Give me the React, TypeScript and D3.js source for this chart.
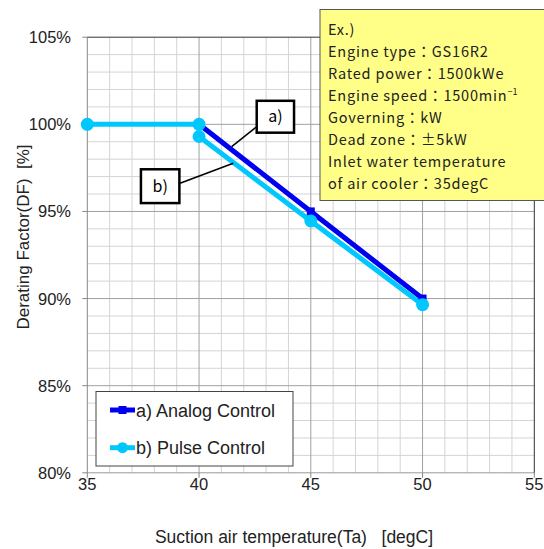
import React from "react";
import * as d3 from "d3";

const xTicks = [35, 40, 45, 50, 55];
const yTicks = [80, 85, 90, 95, 100, 105];
const analogX = [40, 45, 50];
const analogY = [100, 95, 90];
const pulseSegA_X = [35, 40];
const pulseSegA_Y = [100, 100];
const pulseX = [40, 45, 50];
const pulseY = [99.3, 94.45, 89.65];
const infoLines = [
  "Ex.)",
  "Engine type：GS16R2",
  "Rated power：1500kWe",
  "Engine speed：1500min",
  "Governing：kW",
  "Dead zone：±5kW",
  "Inlet water temperature",
  "of air cooler：35degC",
];
const legendLabels = ["a) Analog Control", "b) Pulse Control"];
// annotation callouts in data units: box [x0,x1,y0,y1], leader [x0,y0,x1,y1]
const calloutA = { label: "a)", box: [42.58, 44.25, 101.35, 99.52], leader: [42.58, 99.86, 41.46, 98.72] };
const calloutB = { label: "b)", box: [37.4, 39.12, 97.42, 95.48], leader: [39.15, 96.62, 41.53, 97.77] };

const ANALOG = "#0000f0";
const PULSE = "#00c8ff";
const FONT = "'Liberation Sans', Arial, sans-serif";
const JFONT = "'Noto Sans CJK JP', sans-serif";

export default function App() {
  const L = 87.3, R = 534.3, T = 37.2, B = 472.8;
  const x = d3.scaleLinear().domain([35, 55]).range([L, R]);
  const y = d3.scaleLinear().domain([80, 105]).range([B, T]);
  const minorX = d3.range(35, 56, 1);
  const minorY = d3.range(80, 106, 1);
  const line = d3.line<[number, number]>().x((d) => x(d[0])).y((d) => y(d[1]));
  const analog = analogX.map((v, i) => [v, analogY[i]] as [number, number]);
  const pulseA = pulseSegA_X.map((v, i) => [v, pulseSegA_Y[i]] as [number, number]);
  const pulseB = pulseX.map((v, i) => [v, pulseY[i]] as [number, number]);

  const callout = (c: typeof calloutA) => {
    const [bx0, bx1, by0, by1] = c.box;
    const [lx0, ly0, lx1, ly1] = c.leader;
    return (
      <g key={c.label}>
        <line x1={x(lx0)} y1={y(ly0)} x2={x(lx1)} y2={y(ly1)} stroke="#000" strokeWidth={1.5} />
        <rect x={x(bx0)} y={y(by0)} width={x(bx1) - x(bx0)} height={y(by1) - y(by0)} fill="#fff" stroke="#000" strokeWidth={2.5} />
        <text x={(x(bx0) + x(bx1)) / 2} y={(y(by0) + y(by1)) / 2 + 5.5} textAnchor="middle" fontFamily={JFONT} fontSize={16} fill="#000">{c.label}</text>
      </g>
    );
  };

  return (
    <svg width={544} height={549} style={{ position: "absolute", left: 0, top: 0 }}>
      <rect width={544} height={549} fill="#fff" />
      {minorX.filter((v) => v % 5 !== 0).map((v) => (
        <line key={"mx" + v} x1={x(v)} x2={x(v)} y1={T} y2={B} stroke="#d4d4d4" strokeWidth={1} />
      ))}
      {minorY.filter((v) => v % 5 !== 0).map((v) => (
        <line key={"my" + v} x1={L} x2={R} y1={y(v)} y2={y(v)} stroke="#d4d4d4" strokeWidth={1} />
      ))}
      {xTicks.slice(1, -1).map((v) => (
        <line key={"Mx" + v} x1={x(v)} x2={x(v)} y1={T} y2={B} stroke="#a0a0a0" strokeWidth={1} />
      ))}
      {yTicks.slice(1, -1).map((v) => (
        <line key={"My" + v} x1={L} x2={R} y1={y(v)} y2={y(v)} stroke="#a0a0a0" strokeWidth={1} />
      ))}
      <line x1={L} x2={L} y1={T} y2={B} stroke="#888" strokeWidth={1} />
      <line x1={L} x2={R} y1={B} y2={B} stroke="#999" strokeWidth={1} />
      <line x1={L} x2={R} y1={T} y2={T} stroke="#333" strokeWidth={1} />
      <line x1={R} x2={R} y1={T} y2={B} stroke="#333" strokeWidth={1} />
      {yTicks.map((v) => (
        <g key={"yt" + v}>
          <line x1={L - 5} x2={L} y1={y(v)} y2={y(v)} stroke="#888" />
          <text x={71} y={y(v) + 6} textAnchor="end" fontFamily={FONT} fontSize={16.5} fill="#222">{v}%</text>
        </g>
      ))}
      {xTicks.map((v) => (
        <g key={"xt" + v}>
          <line x1={x(v)} x2={x(v)} y1={B} y2={B + 5} stroke="#888" />
          <text x={x(v)} y={490} textAnchor="middle" fontFamily={FONT} fontSize={16.5} fill="#222">{v}</text>
        </g>
      ))}
      <text x={294} y={543} textAnchor="middle" fontFamily={FONT} fontSize={17.5} fill="#222" style={{ whiteSpace: "pre" }}>
        Suction air temperature(Ta)   [degC]
      </text>
      <text transform="translate(29,237) rotate(-90)" textAnchor="middle" fontFamily={FONT} fontSize={17} fill="#222" style={{ whiteSpace: "pre" }}>
        Derating Factor(DF)  [%]
      </text>
      <path d={line(pulseA) || ""} fill="none" stroke={PULSE} strokeWidth={5} />
      <path d={line(analog) || ""} fill="none" stroke={ANALOG} strokeWidth={5} />
      <path d={line(pulseB) || ""} fill="none" stroke={PULSE} strokeWidth={5} />
      {analog.map((d, i) => (
        <rect key={"as" + i} x={x(d[0]) - 4} y={y(d[1]) - 4} width={8} height={8} fill={ANALOG} />
      ))}
      {pulseA.concat(pulseB).map((d, i) => (
        <circle key={"pc" + i} cx={x(d[0])} cy={y(d[1])} r={6.5} fill={PULSE} />
      ))}
      {callout(calloutA)}
      {callout(calloutB)}
      <rect x={320} y={9.5} width={230} height={191} fill="#ffff88" stroke="#555" strokeWidth={1} />
      {infoLines.map((t, i) => (
        <text key={"il" + i} x={328} y={35 + i * 22} fontFamily={JFONT} fontSize={14.5} letterSpacing={0.8} fill="#222">
          {t}
          {i === 3 ? <tspan dy={-6} fontSize={9} letterSpacing={0}>−1</tspan> : null}
        </text>
      ))}
      <rect x={96} y={391.5} width={197} height={74.5} fill="#fff" stroke="#444" strokeWidth={1} />
      {legendLabels.map((t, i) => {
        const ly = 410 + i * 37.7;
        const col = i === 0 ? ANALOG : PULSE;
        return (
          <g key={"lg" + i}>
            <line x1={110} x2={135} y1={ly} y2={ly} stroke={col} strokeWidth={5} />
            {i === 0 ? (
              <rect x={118.5} y={ly - 4} width={8} height={8} fill={col} />
            ) : (
              <circle cx={122.5} cy={ly} r={5.5} fill={col} />
            )}
            <text x={136} y={ly + 6.5} fontFamily={FONT} fontSize={18} fill="#222">{t}</text>
          </g>
        );
      })}
    </svg>
  );
}
